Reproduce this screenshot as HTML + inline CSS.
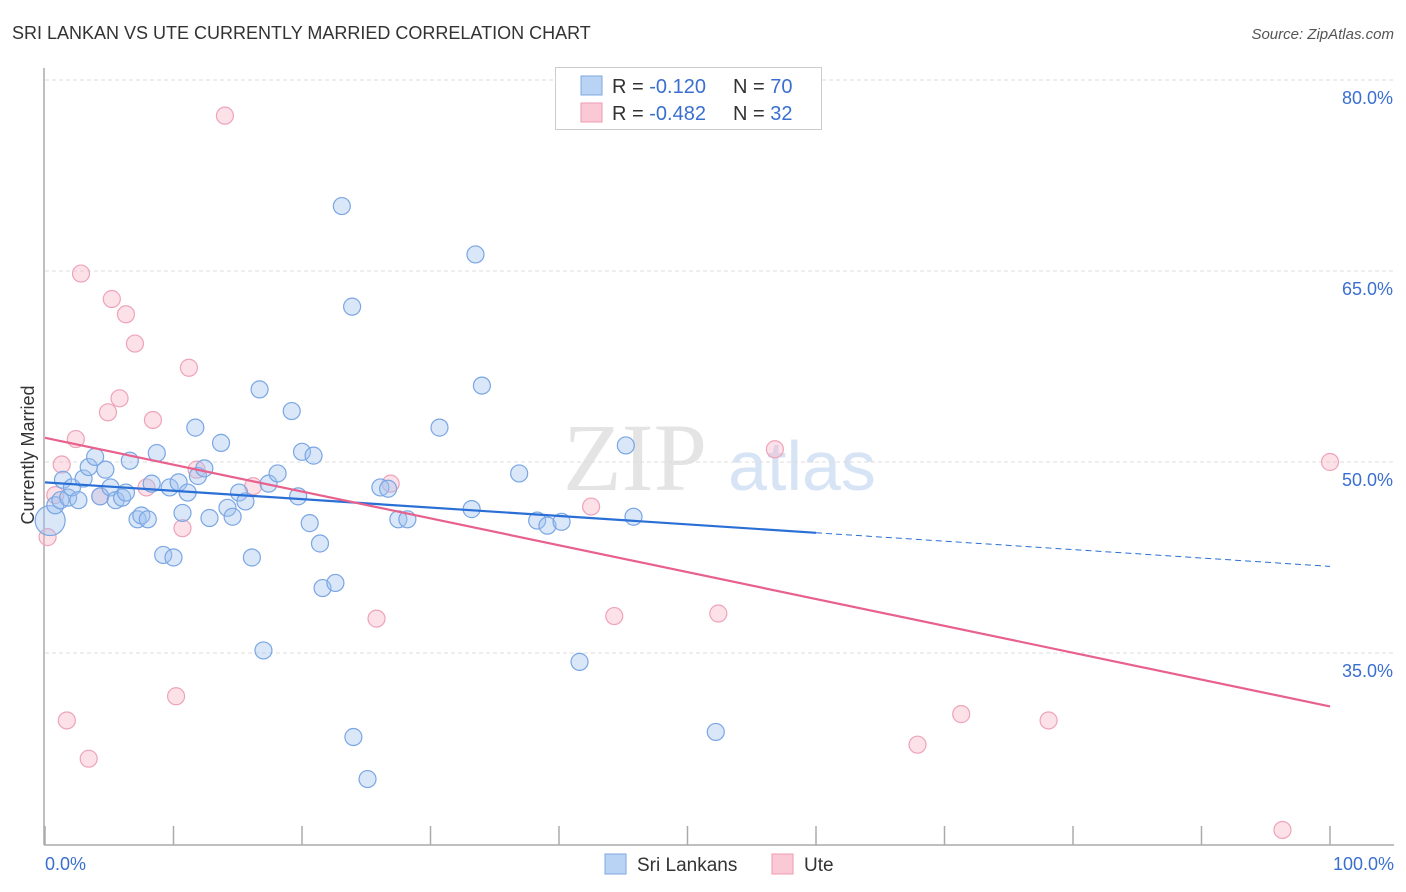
<!DOCTYPE html>
<html><head><meta charset="utf-8"><style>
body{margin:0;background:#fff;font-family:"Liberation Sans",sans-serif;}
svg{display:block}
</style></head><body>
<svg id="chart" width="1406" height="892" xmlns="http://www.w3.org/2000/svg">
<text x="12" y="39" font-size="18" fill="#333">SRI LANKAN VS UTE CURRENTLY MARRIED CORRELATION CHART</text>
<text x="1394" y="39" font-size="15" fill="#555" font-style="italic" text-anchor="end">Source: ZipAtlas.com</text>
<text x="635" y="490" font-size="96" fill="#e4e4e4" font-family="Liberation Serif,serif" text-anchor="middle">ZIP</text>
<text x="802" y="490" font-size="70" fill="#d6e4f5" text-anchor="middle">atlas</text>
<g id="grid"></g>
<line x1="44" y1="68" x2="44" y2="845" stroke="#aaa" stroke-width="1.5"/>
<line x1="44" y1="845" x2="1394" y2="845" stroke="#aaa" stroke-width="1.5"/>
<g id="xticks"></g>
<g id="pts"></g>
<g id="trends"></g>
<text x="34" y="455" font-size="18" fill="#333" text-anchor="middle" transform="rotate(-90 34 455)">Currently Married</text>
<text x="45" y="870" font-size="18" fill="#3a6fd0">0.0%</text>
<text x="1394" y="870" font-size="18" fill="#3a6fd0" text-anchor="end">100.0%</text>
<g>
<rect x="555.5" y="67.5" width="266" height="62" fill="#fff" stroke="#ccc"/>
<rect x="581" y="76" width="21" height="19" fill="#b9d3f5" stroke="#7ea7e0"/>
<rect x="581" y="103" width="21" height="19" fill="#fbc9d6" stroke="#ee9ab2"/>
<text x="612" y="93" font-size="20" fill="#333">R = <tspan fill="#3a6fd0"> -0.120</tspan></text>
<text x="733" y="93" font-size="20" fill="#333">N = <tspan fill="#3a6fd0">70</tspan></text>
<text x="612" y="120" font-size="20" fill="#333">R = <tspan fill="#3a6fd0">-0.482</tspan></text>
<text x="733" y="120" font-size="20" fill="#333">N = <tspan fill="#3a6fd0"> 32</tspan></text>
</g>
<g>
<rect x="605" y="854" width="21" height="20" fill="#b9d3f5" stroke="#7ea7e0"/>
<text x="637" y="871" font-size="19" fill="#333">Sri Lankans</text>
<rect x="772" y="854" width="21" height="20" fill="#fbc9d6" stroke="#ee9ab2"/>
<text x="804" y="871" font-size="19" fill="#333">Ute</text>
</g>
</svg>
<script>
const yTicks=[80,65,50,35];
const yTickLabels=["80.0%","65.0%","50.0%","35.0%"];
const xTickVals=[0,10,20,30,40,50,60,70,80,90,100];
const blueX=[0.4,0.8,1.2,1.4,1.8,2.1,2.6,3.0,3.4,3.9,4.3,4.7,5.1,5.5,6.0,6.3,6.6,7.2,7.5,8.0,8.3,8.7,9.2,9.7,10.0,10.4,10.7,11.1,11.7,11.9,12.4,12.8,13.7,14.2,14.6,15.1,15.6,16.1,16.7,17.0,17.4,18.1,19.2,19.7,20.0,20.6,20.9,21.4,21.6,22.6,23.1,23.9,24.0,25.1,26.1,26.7,27.5,28.2,30.7,33.2,33.5,34.0,36.9,38.3,39.1,40.2,41.6,45.2,45.8,52.2];
const blueY=[45.4,46.6,47.0,48.6,47.2,48.0,47.0,48.7,49.6,50.4,47.3,49.4,48.0,47.0,47.2,47.6,50.1,45.5,45.8,45.5,48.3,50.7,42.7,48.0,42.5,48.4,46.0,47.6,52.7,48.9,49.5,45.6,51.5,46.4,45.7,47.6,46.9,42.5,55.7,35.2,48.3,49.1,54.0,47.3,50.8,45.2,50.5,43.6,40.1,40.5,70.1,62.2,28.4,25.1,48.0,47.9,45.5,45.5,52.7,46.3,66.3,56.0,49.1,45.4,45.0,45.3,34.3,51.3,45.7,28.8];
const pinkX=[0.2,0.8,1.3,1.7,2.4,2.8,3.4,4.3,4.9,5.2,5.8,6.3,7.0,7.9,8.4,10.2,10.7,11.2,11.8,14.0,16.2,25.8,26.9,42.5,44.3,52.4,56.8,67.9,71.3,78.1,96.3,100];
const pinkY=[44.1,47.4,49.8,29.7,51.8,64.8,26.7,47.3,53.9,62.8,55.0,61.6,59.3,48.0,53.3,31.6,44.8,57.4,49.4,77.2,48.1,37.7,48.3,46.5,37.9,38.1,51.0,27.8,30.2,29.7,21.1,50.0];
const blueTrend=[48.4,41.8]; // at x=0 and x=100
const blueSolidEnd=60;
const pinkTrend=[51.9,30.8];
const X=v=>45+v*12.85, Y=v=>80+(80-v)*12.733;
const NS="http://www.w3.org/2000/svg";
function mk(tag,attrs,parent){const e=document.createElementNS(NS,tag);for(const k in attrs)e.setAttribute(k,attrs[k]);parent.appendChild(e);return e;}
const grid=document.getElementById('grid');
yTicks.forEach((v,i)=>{
 const l=mk('line',{x1:45,x2:1394,y1:Y(v),y2:Y(v),stroke:'#ddd','stroke-dasharray':'4,3'},grid);
 
 
 const t=mk('text',{x:1393,y:Y(v)+24,'font-size':18,fill:'#3a6fd0','text-anchor':'end'},grid);
 t.textContent=yTickLabels[i];
 
 
});
const xt=document.getElementById('xticks');
xTickVals.forEach(v=>{
 const l=mk('line',{x1:X(v),x2:X(v),y1:826,y2:845,stroke:'#aaa','stroke-width':1.5},xt);
 
 
});
const pts=document.getElementById('pts');
pinkX.forEach((x,i)=>{
 const c=mk('circle',{cx:X(x),cy:Y(pinkY[i]),r:8.5,fill:'rgba(248,180,200,0.4)',stroke:'#eea3b9','stroke-width':1.2},pts);
 
 
});
blueX.forEach((x,i)=>{
 const c=mk('circle',{cx:X(x),cy:Y(blueY[i]),r:i===0?15:8.5,fill:'rgba(160,195,240,0.4)',stroke:'#7aa6e3','stroke-width':1.2},pts);
 
 
});
const tr=document.getElementById('trends');
const by=x=>blueTrend[0]+(blueTrend[1]-blueTrend[0])*x/100;
let l1=mk('line',{x1:X(0),y1:Y(by(0)),x2:X(blueSolidEnd),y2:Y(by(blueSolidEnd)),stroke:'#2a6fd6','stroke-width':2.2},tr);


let l2=mk('line',{x1:X(blueSolidEnd),y1:Y(by(blueSolidEnd)),x2:X(100),y2:Y(by(100)),stroke:'#2a6fd6','stroke-width':1,'stroke-dasharray':'6,4'},tr);


let l3=mk('line',{x1:X(0),y1:Y(pinkTrend[0]),x2:X(100),y2:Y(pinkTrend[1]),stroke:'#e8608c','stroke-width':2.2},tr);


</script>
</body></html>
